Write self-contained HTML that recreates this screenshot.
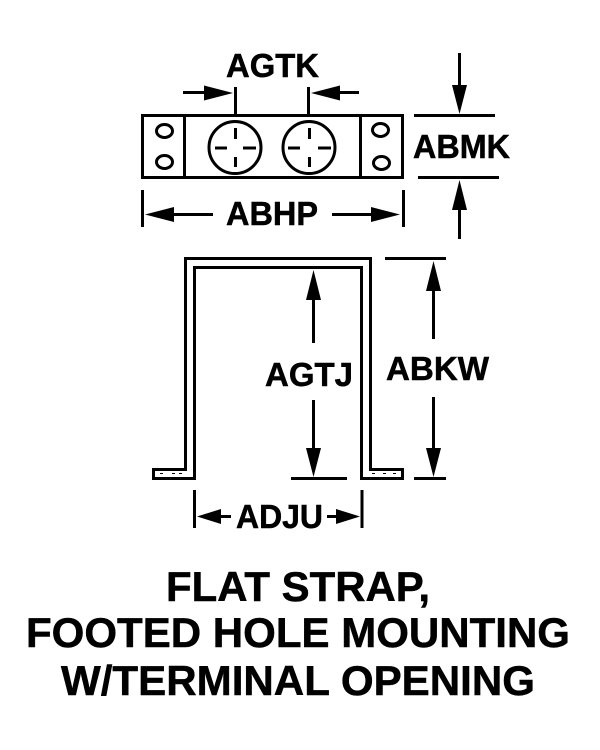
<!DOCTYPE html>
<html>
<head>
<meta charset="utf-8">
<style>
html,body{margin:0;padding:0;background:#fff;width:600px;height:750px;overflow:hidden}
svg{display:block}
text{font-family:"Liberation Sans",Arial,sans-serif;font-weight:bold;fill:#000;stroke:#000;stroke-width:.5;font-size:33px}
.t{font-size:42px}
.l{fill:none;stroke:#000;stroke-width:3}
.a{fill:#000;stroke:none}
</style>
</head>
<body>
<svg width="600" height="750" viewBox="0 0 600 750" xmlns="http://www.w3.org/2000/svg">
<!-- top view -->
<rect class="l" x="142.5" y="115.5" width="260" height="62"/>
<path class="l" d="M184.5 115V178M360.5 115V178"/>
<circle class="l" cx="235" cy="147.5" r="26"/>
<circle class="l" cx="309" cy="147.5" r="26"/>
<path class="l" d="M235.5 128V139M235.5 157V167M215 148H227M243 148H256M309.5 128V139M309.5 157V167M288 148H300M318 148H331"/>
<ellipse class="l" cx="164.5" cy="131" rx="8" ry="6.5"/>
<ellipse class="l" cx="164.5" cy="162" rx="8" ry="6.5"/>
<ellipse class="l" cx="380.5" cy="130" rx="8" ry="6.5"/>
<ellipse class="l" cx="381.5" cy="163" rx="8" ry="6.5"/>

<!-- AGTK -->
<path class="l" d="M235.5 87V115M308.5 87V115M183 92.5H206M338 92.5H359"/>
<path class="a" d="M233 93L204 85.5V100.5Z"/>
<path class="a" d="M311 93L340 85.5V100.5Z"/>
<text x="226" y="77" textLength="93" lengthAdjust="spacingAndGlyphs">AGTK</text>

<!-- ABMK -->
<path class="l" d="M459.5 53V90M414 115.5H495M418 177.5H499M459.5 206V239"/>
<path class="a" d="M459.5 114L452 85H467Z"/>
<path class="a" d="M459.5 180L452 210H467Z"/>
<text x="413" y="158" textLength="97" lengthAdjust="spacingAndGlyphs">ABMK</text>

<!-- ABHP -->
<path class="l" d="M142.5 190V227M403.5 190V227M170 214.5H213M332 214.5H375"/>
<path class="a" d="M145 214.5L174 207V222Z"/>
<path class="a" d="M400 214.5L371 207V222Z"/>
<text x="226" y="225" textLength="92" lengthAdjust="spacingAndGlyphs">ABHP</text>

<!-- strap -->
<path class="l" d="M185.5 469.5V258.5H370.5V469.5H402.5V478.5H361.5V267.5H194.5V478.5H153.5V469.5Z"/>
<path d="M160 473.5H163M172 473.5H175M179 473.5H182M372 473.5H375M383 473.5H386M393 473.5H396" fill="none" stroke="#000" stroke-width="1"/>

<!-- AGTJ -->
<path class="l" d="M313.5 295V343M313.5 400V452M291 478.5H347"/>
<path class="a" d="M313.5 270L306 300H321Z"/>
<path class="a" d="M313.5 477L306 448H321Z"/>
<text x="265" y="386" textLength="88" lengthAdjust="spacingAndGlyphs">AGTJ</text>

<!-- ABKW -->
<path class="l" d="M385 258.5H446M433.5 285V339M433.5 397V452M414 478.5H446"/>
<path class="a" d="M433.5 261L426 291H441Z"/>
<path class="a" d="M433.5 477L426 448H441Z"/>
<text x="386" y="380" textLength="103" lengthAdjust="spacingAndGlyphs">ABKW</text>

<!-- ADJU -->
<path class="l" d="M194.5 490V528M362 490V528M215 516.5H231M327 516.5H340"/>
<path class="a" d="M197 516.5L221 509V524Z"/>
<path class="a" d="M360 516.5L336 509V524Z"/>
<text x="236" y="528" textLength="87" lengthAdjust="spacingAndGlyphs">ADJU</text>

<!-- title -->
<text class="t" x="166" y="601" textLength="264" lengthAdjust="spacingAndGlyphs">FLAT STRAP,</text>
<text class="t" x="26" y="647" textLength="544" lengthAdjust="spacingAndGlyphs">FOOTED HOLE MOUNTING</text>
<text class="t" x="61" y="695" textLength="474" lengthAdjust="spacingAndGlyphs">W/TERMINAL OPENING</text>
</svg>
</body>
</html>
